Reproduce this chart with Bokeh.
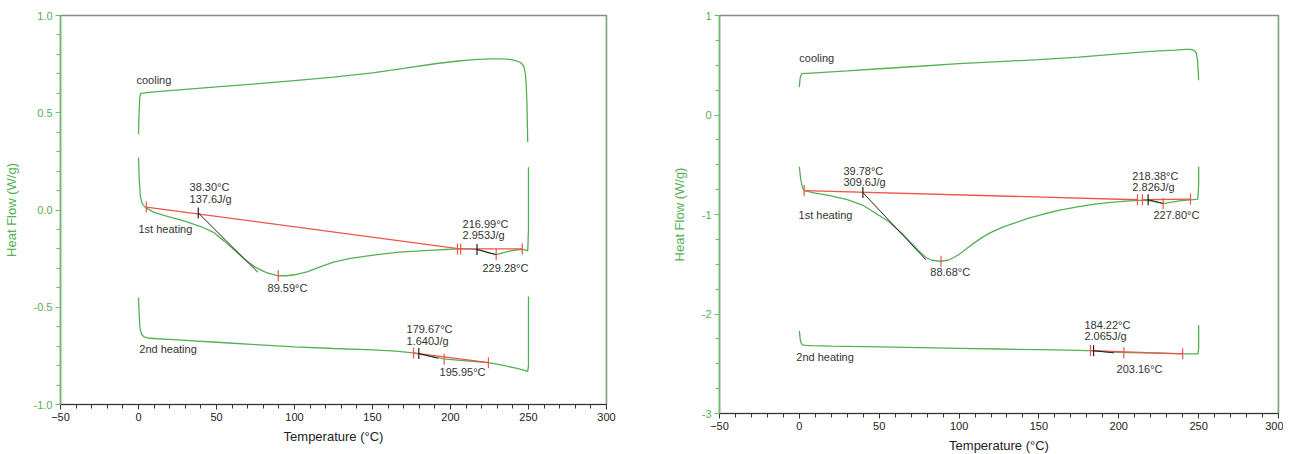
import numpy as np
from bokeh.plotting import figure
from bokeh.layouts import row
from bokeh.models import FixedTicker, PrintfTickFormatter, Span
from bokeh.core.properties import value
from bokeh.embed import file_html
from bokeh.resources import INLINE

# ---------------- LEFT PANEL DATA ----------------
L_cool_T = [0, 0.3, 0.8, 1.5, 10, 30, 50, 75, 100, 125, 150, 170, 190, 205, 215, 225, 232, 238, 242, 245, 247, 248, 248.5, 249, 249.5]
L_cool_H = [0.39, 0.48, 0.58, 0.60, 0.607, 0.62, 0.633, 0.648, 0.665, 0.683, 0.705, 0.728, 0.752, 0.766, 0.773, 0.777, 0.777, 0.774, 0.768, 0.757, 0.74, 0.70, 0.65, 0.55, 0.35]

L_h1_T = [0, 0.5, 1.2, 2.5, 4.5, 10, 18, 30, 40, 48, 55, 62, 69, 75, 82, 89, 95, 100, 108, 116, 125, 135, 146, 157, 167, 178, 189, 197, 205, 212, 217, 221, 225, 229.5, 233, 237, 241, 245, 248, 249.5, 250, 250]
L_h1_H = [0.27, 0.15, 0.07, 0.03, 0.012, -0.012, -0.032, -0.058, -0.085, -0.115, -0.16, -0.21, -0.26, -0.295, -0.322, -0.338, -0.338, -0.333, -0.318, -0.294, -0.268, -0.25, -0.237, -0.226, -0.217, -0.211, -0.206, -0.203, -0.2, -0.2, -0.203, -0.212, -0.222, -0.23, -0.222, -0.213, -0.207, -0.202, -0.205, -0.21, -0.1, 0.22]

L_h2_T = [0, 0.5, 1, 2, 3.5, 6, 12, 25, 50, 75, 100, 125, 150, 165, 176, 186, 196, 206, 216, 224, 230, 236, 242, 247, 249.5, 250, 250]
L_h2_H = [-0.45, -0.55, -0.61, -0.64, -0.652, -0.658, -0.662, -0.668, -0.68, -0.692, -0.704, -0.712, -0.719, -0.726, -0.735, -0.75, -0.765, -0.773, -0.779, -0.785, -0.792, -0.803, -0.813, -0.823, -0.83, -0.80, -0.445]

L_base_x0 = [5, 206, 176.3]
L_base_y0 = [0.015, -0.2, -0.735]
L_base_x1 = [206, 246, 224.3]
L_base_y1 = [-0.2, -0.2, -0.785]

L_tan_x0 = [38.3, 216.99, 179.67]
L_tan_y0 = [-0.015, -0.203, -0.738]
L_tan_x1 = [76.5, 229.5, 192]
L_tan_y1 = [-0.32, -0.23, -0.762]

L_red_T = [5, 204.5, 206.5, 246, 89.59, 229.28, 176.3, 195.95, 224.3]
L_red_H = [0.015, -0.2, -0.2, -0.2, -0.338, -0.23, -0.735, -0.767, -0.785]
L_blk_T = [38.3, 216.99, 179.67]
L_blk_H = [-0.015, -0.203, -0.738]

L_txt = ["cooling", "38.30°C", "137.6J/g", "1st heating", "89.59°C", "216.99°C", "2.953J/g", "229.28°C", "2nd heating", "179.67°C", "1.640J/g", "195.95°C"]
L_txt_T = [-1.3, 32.7, 32.7, 0, 82.7, 207.7, 207.7, 220.5, 0.5, 171.8, 171.8, 193]
L_txt_H = [0.666, 0.116, 0.059, -0.10, -0.40, -0.07, -0.126, -0.296, -0.717, -0.614, -0.676, -0.835]

# ---------------- RIGHT PANEL DATA ----------------
R_cool_T = [0, 0.4, 1, 1.5, 10, 30, 50, 75, 100, 125, 150, 175, 200, 220, 235, 242, 245, 247, 248.5, 249.3, 249.8, 250]
R_cool_H = [0.28, 0.36, 0.40, 0.415, 0.424, 0.444, 0.465, 0.49, 0.516, 0.536, 0.556, 0.582, 0.614, 0.64, 0.653, 0.66, 0.659, 0.65, 0.625, 0.55, 0.42, 0.35]

R_h1_T = [0, 0.5, 1, 2, 3, 10, 19, 30, 39.5, 48, 56, 60, 65, 70, 75, 79, 83, 88, 93, 97, 101, 105, 110, 115, 120, 127, 135, 143, 153, 163, 175, 185, 195, 205, 215, 219, 224, 228, 233, 239, 245, 249.5, 250, 250]
R_h1_H = [-0.52, -0.6, -0.66, -0.73, -0.76, -0.785, -0.81, -0.85, -0.905, -0.99, -1.07, -1.13, -1.2, -1.285, -1.37, -1.43, -1.46, -1.47, -1.46, -1.43, -1.39, -1.34, -1.28, -1.225, -1.18, -1.13, -1.085, -1.04, -0.995, -0.955, -0.92, -0.895, -0.878, -0.865, -0.855, -0.86, -0.875, -0.89, -0.875, -0.86, -0.852, -0.845, -0.7, -0.52]

R_h2_T = [0, 0.5, 1, 2, 4, 8, 20, 50, 75, 100, 125, 150, 175, 185, 200, 215, 230, 245, 249.5, 250, 250]
R_h2_H = [-2.17, -2.25, -2.29, -2.31, -2.315, -2.318, -2.322, -2.33, -2.338, -2.345, -2.352, -2.358, -2.365, -2.37, -2.385, -2.39, -2.395, -2.4, -2.4, -2.35, -2.11]

R_base_x0 = [3, 214.8, 182.3]
R_base_y0 = [-0.76, -0.852, -2.368]
R_base_x1 = [211.7, 244.9, 240]
R_base_y1 = [-0.852, -0.845, -2.40]

R_tan_x0 = [39.78, 218.38, 184.22]
R_tan_y0 = [-0.78, -0.852, -2.37]
R_tan_x1 = [79.3, 228, 197]
R_tan_y1 = [-1.456, -0.89, -2.39]

R_red_T = [3, 211.7, 214.8, 244.9, 88.68, 227.8, 182.3, 203.16, 240]
R_red_H = [-0.76, -0.852, -0.852, -0.845, -1.47, -0.89, -2.368, -2.39, -2.40]
R_blk_T = [39.78, 218.38, 184.22]
R_blk_H = [-0.78, -0.852, -2.37]

R_txt = ["cooling", "39.78°C", "309.6J/g", "1st heating", "88.68°C", "218.38°C", "2.826J/g", "227.80°C", "2nd heating", "184.22°C", "2.065J/g", "203.16°C"]
R_txt_T = [0, 27.6, 27.6, -0.5, 82, 208.5, 208.5, 221.7, -1.9, 178.5, 178.5, 198.6]
R_txt_H = [0.57, -0.56, -0.67, -1.0, -1.58, -0.61, -0.72, -1.0, -2.43, -2.11, -2.22, -2.55]

X_TICKS = [-50, 0, 50, 100, 150, 200, 250, 300]
X_MINOR = list(range(-50, 301, 10))
L_Y_TICKS = [-1.0, -0.5, 0.0, 0.5, 1.0]
L_Y_MINOR = [round(-1 + 0.1 * i, 2) for i in range(21)]
R_Y_TICKS = [-3, -2, -1, 0, 1]
R_Y_MINOR = [-3 + 0.25 * i for i in range(17)]

GREEN = "#55b055"
AXGREEN = "#6cc06c"
RED = "#f0524c"
TXT = "#333333"
FONT = "Liberation Sans"


def make(y_rng, yt, ym, yfmt, frame_w, frame_h, mb_left, mb_right, mb_top, mb_bot, title_standoff,
         cool, h1, h2, base, tan, red, blk, txt):
    p = figure(x_range=(-50, 300), y_range=y_rng, frame_width=frame_w, frame_height=frame_h,
               output_backend="svg", toolbar_location=None,
               min_border_left=mb_left, min_border_right=mb_right, min_border_top=mb_top,
               min_border_bottom=mb_bot)
    p.grid.visible = False
    p.outline_line_color = "#8a8a8a"
    p.outline_line_width = 1.5
    p.background_fill_color = "white"
    p.border_fill_color = "white"

    xa = p.xaxis[0]
    xa.ticker = FixedTicker(ticks=X_TICKS, minor_ticks=X_MINOR)
    xa.axis_line_color = "#333333"
    xa.major_tick_line_color = "#333333"
    xa.minor_tick_line_color = "#333333"
    xa.major_tick_out = 5
    xa.major_tick_in = 0
    xa.minor_tick_out = 4
    xa.minor_tick_in = 0
    xa.major_label_text_font = FONT
    xa.major_label_text_font_size = "11px"
    xa.major_label_text_color = "#222222"
    xa.major_label_standoff = 3
    xa.axis_label = "Temperature (°C)"
    xa.axis_label_text_font = FONT
    xa.axis_label_text_font_size = "13px"
    xa.axis_label_text_font_style = "normal"
    xa.axis_label_text_color = "#222222"
    xa.axis_label_standoff = 5

    ya = p.yaxis[0]
    ya.ticker = FixedTicker(ticks=yt, minor_ticks=ym)
    ya.formatter = PrintfTickFormatter(format=yfmt)
    ya.axis_line_color = AXGREEN
    ya.axis_line_width = 1.5
    ya.major_tick_line_color = AXGREEN
    ya.minor_tick_line_color = AXGREEN
    ya.major_tick_out = 5
    ya.major_tick_in = 0
    ya.minor_tick_out = 4
    ya.minor_tick_in = 0
    ya.major_label_text_font = FONT
    ya.major_label_text_font_size = "11px"
    ya.major_label_text_color = GREEN
    ya.major_label_standoff = 3
    ya.axis_label = "Heat Flow (W/g)"
    ya.axis_label_text_font = FONT
    ya.axis_label_text_font_size = "13px"
    ya.axis_label_text_font_style = "normal"
    ya.axis_label_text_color = GREEN
    ya.axis_label_standoff = title_standoff

    p.add_layout(Span(location=300, dimension="height", line_color=AXGREEN, line_width=1.5))

    for (t, h) in (cool, h1, h2):
        p.line(t, h, line_color=GREEN, line_width=1.3)
    p.segment(x0=base[0], y0=base[1], x1=base[2], y1=base[3], line_color=RED, line_width=1.3)
    p.segment(x0=tan[0], y0=tan[1], x1=tan[2], y1=tan[3], line_color="#222222", line_width=1.0)
    p.scatter(red[0], red[1], marker="dash", angle=np.pi / 2, size=11, line_color=RED, line_width=1.2)
    p.scatter(blk[0], blk[1], marker="dash", angle=np.pi / 2, size=11, line_color="#222222", line_width=1.2)
    p.text(x=txt[1], y=txt[2], text=txt[0], text_font=value(FONT), text_font_size="11px",
           text_color=TXT, text_align="left", text_baseline="middle")
    return p


p1 = make((-1, 1), L_Y_TICKS, L_Y_MINOR, "%.1f", 546, 389, 55, 11, 14, 41, 12,
          (L_cool_T, L_cool_H), (L_h1_T, L_h1_H), (L_h2_T, L_h2_H),
          (L_base_x0, L_base_y0, L_base_x1, L_base_y1),
          (L_tan_x0, L_tan_y0, L_tan_x1, L_tan_y1),
          (L_red_T, L_red_H), (L_blk_T, L_blk_H),
          (L_txt, L_txt_T, L_txt_H))

p2 = make((-3, 1), R_Y_TICKS, R_Y_MINOR, "%d", 559, 398, 102, 5, 15, 31, 12,
          (R_cool_T, R_cool_H), (R_h1_T, R_h1_H), (R_h2_T, R_h2_H),
          (R_base_x0, R_base_y0, R_base_x1, R_base_y1),
          (R_tan_x0, R_tan_y0, R_tan_x1, R_tan_y1),
          (R_red_T, R_red_H), (R_blk_T, R_blk_H),
          (R_txt, R_txt_T, R_txt_H))

layout = row(p1, p2)
open("out.html", "w").write(file_html(layout, INLINE))
